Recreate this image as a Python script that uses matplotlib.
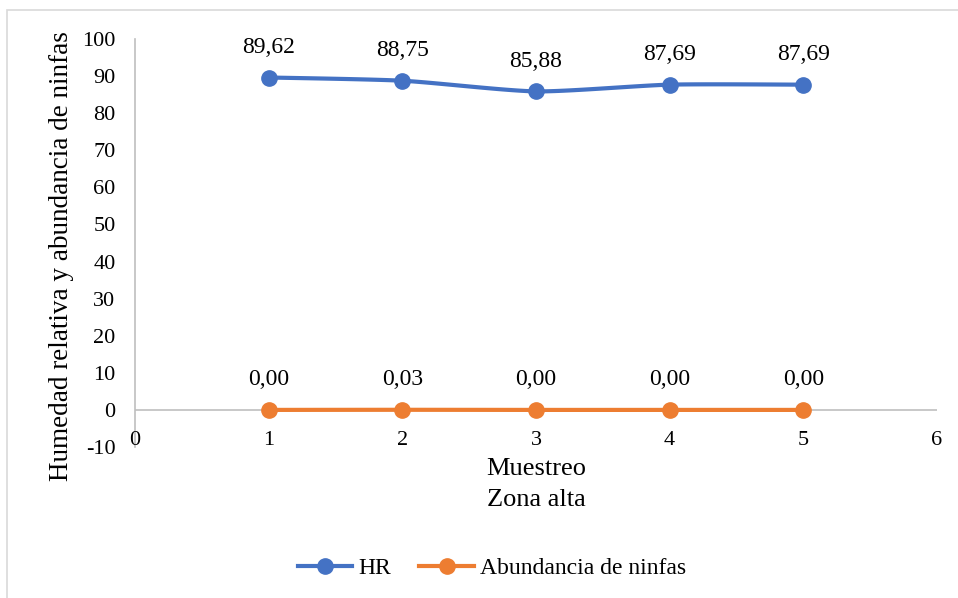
import matplotlib
matplotlib.use("Agg")
import matplotlib.pyplot as plt
import numpy as np
from matplotlib.patches import Rectangle
from matplotlib.lines import Line2D

muestreo = [1, 2, 3, 4, 5]
hr = [89.62, 88.75, 85.88, 87.69, 87.69]
ninfas = [0.00, 0.03, 0.00, 0.00, 0.00]
hr_labels = ["89,62", "88,75", "85,88", "87,69", "87,69"]
ninfas_labels = ["0,00", "0,03", "0,00", "0,00", "0,00"]
xticks = [0, 1, 2, 3, 4, 5, 6]
yticks = [-10, 0, 10, 20, 30, 40, 50, 60, 70, 80, 90, 100]

plt.rcParams['font.family'] = ['Liberation Serif', 'DejaVu Serif']

W, H = 958, 598
fig = plt.figure(figsize=(W / 100, H / 100), dpi=100)

# chart border
fig.patches.append(Rectangle((7 / W, -0.1), 1.2, 1 - 10 / H + 0.1, transform=fig.transFigure,
                             fill=False, edgecolor='#d9d9d9', linewidth=1.2))

x0, x1 = 135, 937
y_top, y_bot = 39, 447
ax = fig.add_axes([x0 / W, 1 - y_bot / H, (x1 - x0) / W, (y_bot - y_top) / H])
ax.set_xlim(0, 6)
ax.set_ylim(-10, 100)

for s in ['top', 'right', 'bottom']:
    ax.spines[s].set_visible(False)
ax.spines['left'].set_color('#bfbfbf')
ax.spines['left'].set_linewidth(1.2)
ax.axhline(0, color='#bfbfbf', linewidth=1.2, zorder=1)

ax.set_yticks(yticks)
ax.set_yticklabels([str(v) for v in yticks], fontsize=16)
ax.set_xticks(xticks)
ax.set_xticklabels([])
ax.tick_params(axis='both', length=0)
ax.tick_params(axis='y', pad=14)
for xv in xticks:
    ax.annotate(str(xv), (xv, 0), xytext=(0, -15), textcoords='offset points',
                ha='center', va='top', fontsize=16)


def catmull(xs, ys, n=30):
    xs = np.asarray(xs, float); ys = np.asarray(ys, float)
    px = np.concatenate([[xs[0]], xs, [xs[-1]]])
    py = np.concatenate([[ys[0]], ys, [ys[-1]]])
    ox, oy = [], []
    for i in range(1, len(px) - 2):
        t = np.linspace(0, 1, n)
        for arr, out in ((px, ox), (py, oy)):
            p0, p1, p2, p3 = arr[i - 1], arr[i], arr[i + 1], arr[i + 2]
            m1 = (p2 - p0) / 2 * 0.67
            m2 = (p3 - p1) / 2 * 0.67
            h00 = 2 * t**3 - 3 * t**2 + 1
            h10 = t**3 - 2 * t**2 + t
            h01 = -2 * t**3 + 3 * t**2
            h11 = t**3 - t**2
            out.extend(h00 * p1 + h10 * m1 + h01 * p2 + h11 * m2)
    return np.array(ox), np.array(oy)


blue = '#4472c4'
orange = '#ed7d31'
for ys, col, labs in ((hr, blue, hr_labels), (ninfas, orange, ninfas_labels)):
    sx, sy = catmull(muestreo, ys)
    ax.plot(sx, sy, color=col, linewidth=3, zorder=3, solid_capstyle='round')
    ax.plot(muestreo, ys, 'o', color=col, markersize=11, zorder=4)
    for xv, yv, lb in zip(muestreo, ys, labs):
        ax.annotate(lb, (xv, yv), xytext=(0, 14), textcoords='offset points',
                    ha='center', va='bottom', fontsize=17)

fig.text((x0 + x1) / 2 / W, 1 - 469 / H, "Muestreo", ha='center', va='center', fontsize=19)
fig.text((x0 + x1) / 2 / W, 1 - 500 / H, "Zona alta", ha='center', va='center', fontsize=19)
fig.text(61 / W, 1 - 256 / H, "Humedad relativa y abundancia de ninfas", ha='center', va='center',
         rotation=90, fontsize=19.5)

handles = [Line2D([], [], color=blue, lw=3, marker='o', markersize=11),
           Line2D([], [], color=orange, lw=3, marker='o', markersize=11)]
fig.legend(handles, ["HR", "Abundancia de ninfas"], loc='center', bbox_to_anchor=(492 / W, 1 - 568 / H),
           ncol=2, frameon=False, fontsize=17, handlelength=2.3, handletextpad=0.25, columnspacing=1.2)

fig.savefig("out.png", dpi=100)
